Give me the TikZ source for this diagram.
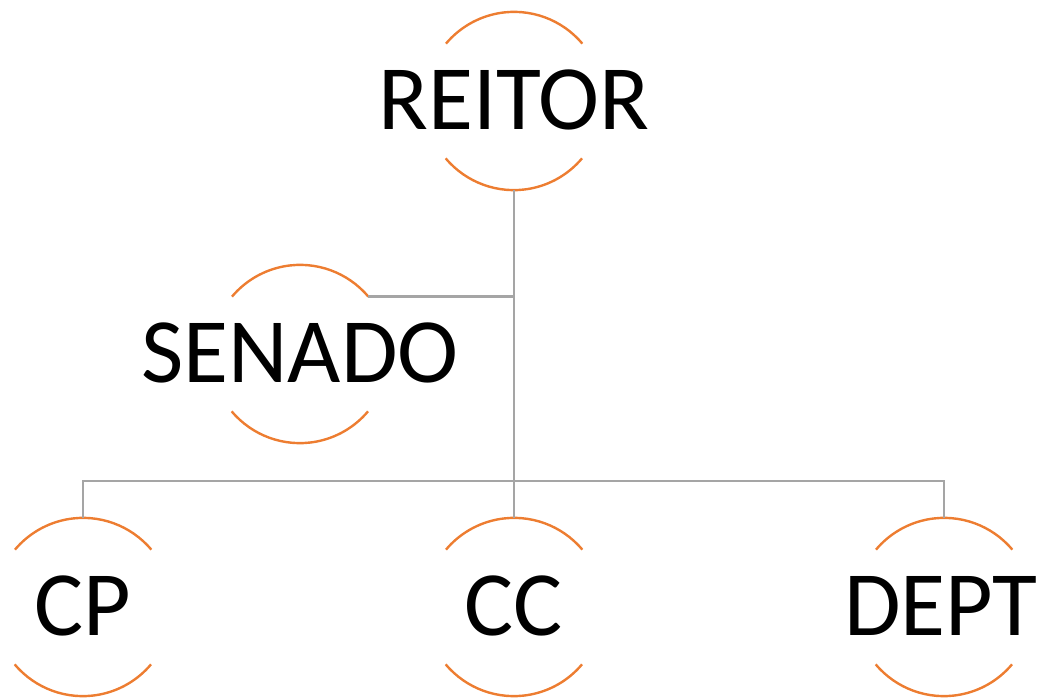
\documentclass[tikz,border=0pt]{standalone}
\usepackage{fontspec}
\setmainfont{Carlito}
\definecolor{ringor}{HTML}{ED7D31}
\definecolor{linegray}{HTML}{A5A5A5}
\begin{document}
\begin{tikzpicture}[x=1pt,y=1pt,
  ring/.style={circle,minimum size=178pt,inner sep=0pt},
  lab/.style={inner sep=0pt,font=\fontsize{92}{100}\selectfont},
  arcs/.style={draw=ringor,line width=2.4pt},
  conn/.style={draw=linegray,line width=2.8pt}]
\useasboundingbox (0,0) rectangle (1046,697);
\node[ring] (reitor) at (514,596) {};
\node[ring] (senado) at (300,343) {};
\node[ring] (cp) at (83,90) {};
\node[ring] (cc) at (514,90) {};
\node[ring] (dept) at (944,90) {};
\node[lab] (reitorT) at ([yshift=1pt]reitor) {REITOR};
\node[lab] (senadoT) at ([yshift=1pt]senado) {SENADO};
\node[lab] (cpT) at ([yshift=1pt]cp) {CP};
\node[lab] (ccT) at ([yshift=1pt]cc) {CC};
\node[lab] (deptT) at ([xshift=-3pt,yshift=1pt]dept) {DEPT};
\foreach \n in {reitor,senado,cp,cc,dept}{
  \draw[arcs] (\n.40) arc[start angle=40,end angle=140,radius=89pt];
  \draw[arcs] (\n.220) arc[start angle=220,end angle=320,radius=89pt];
}
\coordinate (bus) at (514,216);
\draw[conn] (reitor.south) -- (cc.north);
\draw[conn] (senado.40) -- (senado.40 -| reitor.south);
\draw[conn] (cp.north) -- (cp.north |- bus) -- (dept.north |- bus) -- (dept.north);
\end{tikzpicture}
\end{document}
